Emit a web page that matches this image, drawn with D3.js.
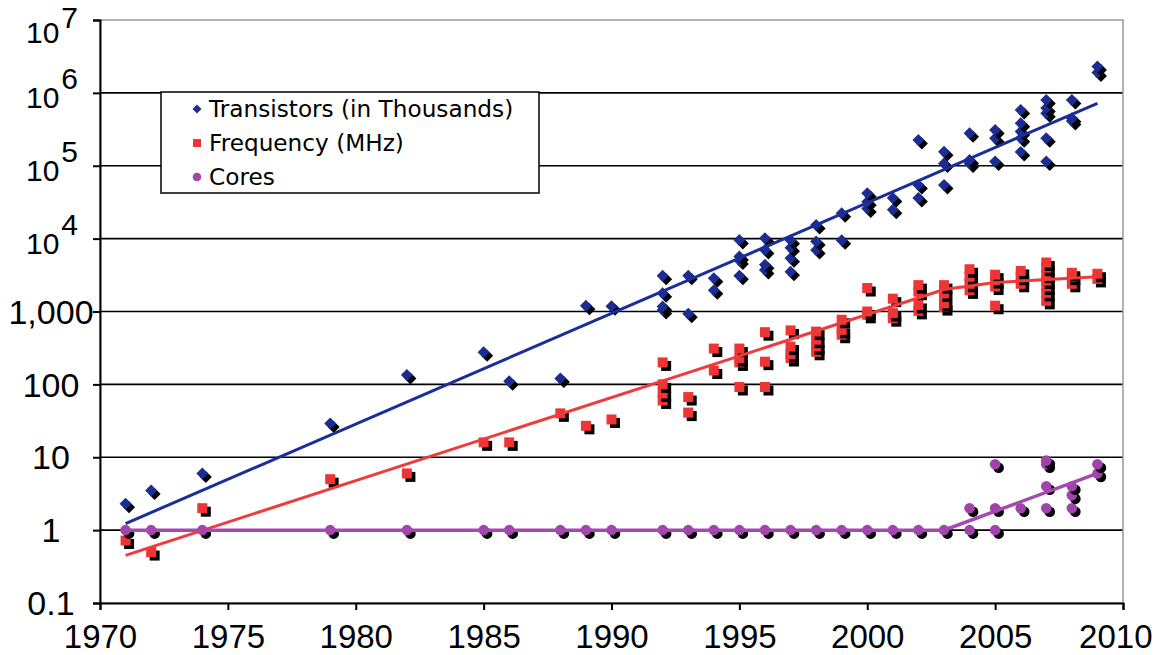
<!DOCTYPE html>
<html>
<head>
<meta charset="utf-8">
<script src="https://cdn.jsdelivr.net/npm/d3@7"></script>
<style>
  body { margin: 0; background: #fff; }
  text { fill: #000; }
</style>
</head>
<body>
<svg id="chart" width="1154" height="655"></svg>
<script>
"use strict";

// [year, value] readings
var transistors = [
  [1971, 2.3], [1972, 3.5], [1974, 6], [1979, 29], [1982, 134], [1985, 275], [1986, 110],
  [1988, 120], [1989, 1200], [1990, 1180],
  [1992, 3100], [1992, 1780], [1992, 1170], [1992, 1050],
  [1993, 3100], [1993, 930],
  [1994, 2860], [1994, 1950],
  [1995, 9600], [1995, 5700], [1995, 5000], [1995, 3100],
  [1996, 10100], [1996, 7000], [1996, 4370], [1996, 3720],
  [1997, 9500], [1997, 7500], [1997, 5400], [1997, 3500],
  [1998, 15400], [1998, 9100], [1998, 7000],
  [1999, 22300], [1999, 9500],
  [2000, 42000], [2000, 32000], [2000, 26000],
  [2001, 36000], [2001, 25000],
  [2002, 226000], [2002, 54600], [2002, 36000],
  [2003, 156000], [2003, 107000], [2003, 54600],
  [2004, 279000], [2004, 120000], [2004, 107000],
  [2005, 309000], [2005, 238000], [2005, 114000],
  [2006, 582000], [2006, 383000], [2006, 294000], [2006, 238000], [2006, 155000],
  [2007, 800000], [2007, 620000], [2007, 525000], [2007, 238000], [2007, 114000],
  [2008, 800000], [2008, 450000], [2008, 410000],
  [2009, 2300000], [2009, 1900000]
];

var frequency = [
  [1971, 0.72], [1972, 0.5], [1974, 2], [1979, 5], [1982, 6], [1985, 16], [1986, 16],
  [1988, 40], [1989, 27], [1990, 33],
  [1992, 200], [1992, 100], [1992, 75], [1992, 60],
  [1993, 67], [1993, 41],
  [1994, 310], [1994, 155],
  [1995, 310], [1995, 230], [1995, 200], [1995, 92],
  [1996, 520], [1996, 205], [1996, 92],
  [1997, 550], [1997, 330], [1997, 260], [1997, 230],
  [1998, 530], [1998, 410], [1998, 333], [1998, 280],
  [1999, 770], [1999, 560], [1999, 480],
  [2000, 2100], [2000, 1000], [2000, 900],
  [2001, 1500], [2001, 950], [2001, 810],
  [2002, 2300], [2002, 1870], [2002, 1230], [2002, 1020],
  [2003, 2300], [2003, 1770], [2003, 1300], [2003, 1150],
  [2004, 3800], [2004, 3000], [2004, 2400], [2004, 1950],
  [2005, 3200], [2005, 2700], [2005, 2200], [2005, 1200],
  [2006, 3600], [2006, 3000], [2006, 2400],
  [2007, 4700], [2007, 4000], [2007, 3200], [2007, 2660], [2007, 2200], [2007, 1800], [2007, 1400],
  [2008, 3400], [2008, 3000], [2008, 2400],
  [2009, 3300], [2009, 2800]
];

var cores = [
  [1971, 1], [1972, 1], [1974, 1], [1979, 1], [1982, 1], [1985, 1], [1986, 1],
  [1988, 1], [1989, 1], [1990, 1], [1992, 1], [1993, 1], [1994, 1], [1995, 1],
  [1996, 1], [1997, 1], [1998, 1], [1999, 1], [2000, 1], [2001, 1], [2002, 1],
  [2003, 1], [2004, 1], [2004, 2], [2005, 1], [2005, 2], [2005, 8],
  [2006, 2], [2007, 2], [2007, 4], [2007, 8], [2007, 9],
  [2008, 2], [2008, 3], [2008, 4], [2009, 6], [2009, 8]
];

// trend lines
var transistorTrend = [[1971, 1.23], [2009, 720000]];
var frequencyTrend = [[1971, 0.45], [2003, 2000], [2005, 2500], [2009, 3000]];
var coresTrend = [[1971, 1], [2003, 1], [2009, 6]];

var xTicks = [1970, 1975, 1980, 1985, 1990, 1995, 2000, 2005, 2010];
var yTicks = [0.1, 1, 10, 100, 1000, 1e4, 1e5, 1e6, 1e7];
var yTickLabels = ["0.1", "1", "10", "100", "1,000", "10^4", "10^5", "10^6", "10^7"];
var legendLabels = ["Transistors (in Thousands)", "Frequency (MHz)", "Cores"];

var blue = "#1c2d92", red = "#ee3434", purple = "#a143aa";
var labelFont = "'Liberation Sans', Arial, Helvetica, sans-serif";
var W = 1154, H = 655;

var svg = d3.select("#chart");
var margin = {top: 20, right: 31, bottom: 52, left: 100},
    width = W - margin.left - margin.right,
    height = H - margin.top - margin.bottom;

var x = d3.scaleLinear().domain([1970, 2010]).range([margin.left, margin.left + width]);
var y = d3.scaleLog().domain([0.1, 1e7]).range([margin.top + height, margin.top]);

// gridlines
svg.append("g").selectAll("line")
  .data(yTicks.filter(function(d) { return d >= 1 && d < 1e7; }))
  .enter().append("line")
  .attr("x1", x(1970)).attr("x2", x(2010))
  .attr("y1", function(d) { return y(d); }).attr("y2", function(d) { return y(d); })
  .attr("stroke", "#000").attr("stroke-width", 1.6);

// plot border
svg.append("rect")
  .attr("x", x(1970)).attr("y", y(1e7))
  .attr("width", x(2010) - x(1970)).attr("height", y(0.1) - y(1e7))
  .attr("fill", "none").attr("stroke", "#999").attr("stroke-width", 1.5);

// axes
var xAxis = d3.axisBottom(x).tickValues(xTicks).tickSize(7).tickFormat(d3.format("d"));
var gx = svg.append("g").attr("transform", "translate(0," + y(0.1) + ")").call(xAxis);
gx.attr("font-family", null).attr("font-size", null);
gx.select(".domain").attr("stroke", "#000").attr("stroke-width", 2);
gx.selectAll(".tick line").attr("stroke", "#000").attr("stroke-width", 2);
gx.selectAll(".tick text")
  .attr("y", 45).attr("dy", 0)
  .style("font-family", labelFont)
  .style("font-size", "33px").attr("fill", "#000")
  .each(function(d) {
    // keep the last label inside the picture, as the original does
    var half = this.getComputedTextLength() / 2;
    var over = x(d) + half - (W - 2);
    if (over > 0) d3.select(this).attr("x", -over);
  });

var yAxis = d3.axisLeft(y).tickValues(yTicks).tickSize(7).tickFormat("");
var gy = svg.append("g").attr("transform", "translate(" + x(1970) + ",0)").call(yAxis);
gy.select(".domain").attr("stroke", "#000").attr("stroke-width", 2);
gy.selectAll(".tick line").attr("stroke", "#000").attr("stroke-width", 2);

var yLab = svg.append("g")
  .style("font-family", labelFont)
  .attr("text-anchor", "middle");
yTicks.forEach(function(v, i) {
  var lab = yTickLabels[i];
  if (lab.indexOf("^") > 0) {
    var parts = lab.split("^");
    var base = Math.max(y(v), 28) + 15;
    var t = yLab.append("text")
      .attr("x", 52).attr("y", base)
      .style("font-size", "30px");
    t.append("tspan").text(parts[0]);
    t.append("tspan").attr("dx", 2).attr("dy", -Math.min(19, base - 28)).text(parts[1]);
  } else {
    yLab.append("text")
      .attr("x", 51).attr("y", y(v)).attr("dy", "0.36em")
      .style("font-size", "34px")
      .text(lab);
  }
});

// marker shapes
function diamond(r) { return "M0," + (-r) + "L" + r + ",0L0," + r + "L" + (-r) + ",0Z"; }
function square(r) { return "M" + (-r) + "," + (-r) + "h" + (2 * r) + "v" + (2 * r) + "h" + (-2 * r) + "Z"; }
function circle(r) { return d3.symbol().type(d3.symbolCircle).size(Math.PI * r * r)(); }

function drawSeries(data, shape, color) {
  var sorted = data.slice().sort(function(a, b) { return a[1] - b[1]; });
  var g = svg.append("g");
  sorted.forEach(function(d) {
    var px = x(d[0]), py = y(d[1]);
    g.append("path").attr("d", shape).attr("fill", "#000")
      .attr("transform", "translate(" + (px + 3.5) + "," + (py + 3.5) + ")");
    g.append("path").attr("d", shape).attr("fill", color)
      .attr("transform", "translate(" + px + "," + py + ")");
  });
}

drawSeries(transistors, diamond(6), blue);
drawSeries(frequency, square(5), red);
drawSeries(cores, circle(5.3), purple);

var line = d3.line()
  .x(function(d) { return x(d[0]); })
  .y(function(d) { return y(d[1]); });

svg.append("path").datum(transistorTrend).attr("d", line)
  .attr("fill", "none").attr("stroke", "#1a2d9c").attr("stroke-width", 3);
svg.append("path").datum(frequencyTrend).attr("d", line)
  .attr("fill", "none").attr("stroke", "#ef3b3b").attr("stroke-width", 3);
svg.append("path").datum(coresTrend).attr("d", line)
  .attr("fill", "none").attr("stroke", "#a449b0").attr("stroke-width", 3.5);

// legend
var legend = svg.append("g");
legend.append("rect")
  .attr("x", 161).attr("y", 92).attr("width", 378).attr("height", 101)
  .attr("fill", "#fff").attr("stroke", "#000").attr("stroke-width", 1.5);
var legendShapes = [diamond(4.5), square(4), circle(4.3)];
var legendColors = [blue, red, purple];
legendLabels.forEach(function(lab, i) {
  var ry = 109 + i * 34;
  legend.append("path").attr("d", legendShapes[i]).attr("fill", legendColors[i])
    .attr("transform", "translate(197," + ry + ")");
  legend.append("text")
    .attr("x", 209).attr("y", ry).attr("dy", "0.36em")
    .style("font-family", "'DejaVu Sans', Verdana, sans-serif")
    .style("font-size", "23.2px")
    .text(lab);
});
</script>
</body>
</html>
